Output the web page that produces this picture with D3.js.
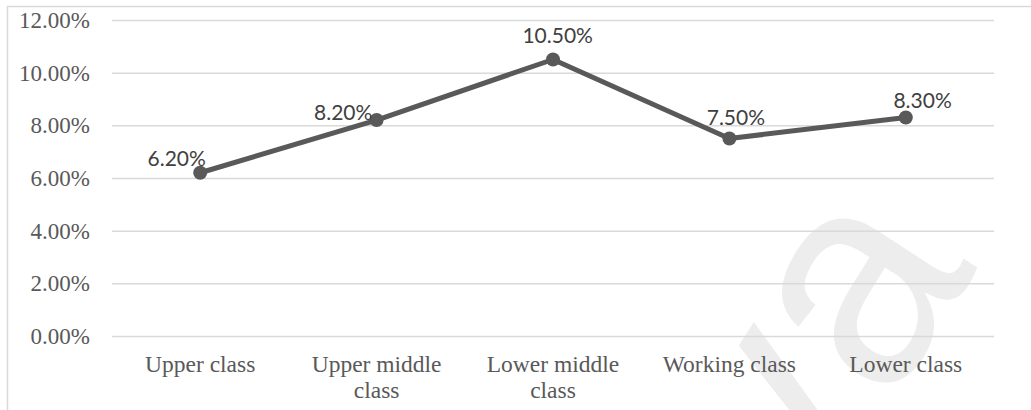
<!DOCTYPE html>
<html>
<head>
<meta charset="utf-8">
<script src="https://cdn.jsdelivr.net/npm/d3@7"></script>
<style>
  html, body { margin: 0; padding: 0; background: #fff; }
  svg { display: block; }
</style>
</head>
<body>
<svg id="chart" width="1031" height="410"></svg>
<script>
// Share of respondents by social class
const categories = [["Upper class"], ["Upper middle", "class"], ["Lower middle", "class"], ["Working class"], ["Lower class"]];
const values = [0.062, 0.082, 0.105, 0.075, 0.083];
const yTicks = [0, 0.02, 0.04, 0.06, 0.08, 0.10, 0.12];

const svg = d3.select("#chart");
const W = 1031, H = 410;
const plot = { left: 112, right: 994, top: 20, bottom: 336 };

// outer chart frame (runs past the right and bottom edges)
svg.append("rect")
  .attr("x", 7.5).attr("y", 6.5)
  .attr("width", W + 20).attr("height", H + 20)
  .attr("fill", "none").attr("stroke", "#d9d9d9").attr("stroke-width", 1.5);

// background watermark
svg.append("text")
  .attr("transform", "translate(978,268) rotate(-57)")
  .attr("text-anchor", "end")
  .attr("font-family", "Liberation Sans, Arial, sans-serif")
  .attr("font-size", 300)
  .attr("fill", "#ededed")
  .text("Malaya");

const x = d3.scaleBand()
  .domain(d3.range(categories.length))
  .range([plot.left, plot.right])
  .padding(0);

const y = d3.scaleLinear()
  .domain([0, 0.12])
  .range([plot.bottom, plot.top]);

// horizontal gridlines + y labels
const yAxis = d3.axisLeft(y)
  .tickValues(yTicks)
  .tickFormat(d3.format(".2%"))
  .tickSize(-(plot.right - plot.left))
  .tickPadding(22);

const gy = svg.append("g")
  .attr("transform", `translate(${plot.left},0)`)
  .call(yAxis);
gy.select(".domain").remove();
gy.selectAll(".tick line").attr("stroke", "#d9d9d9").attr("stroke-width", 1.5);
gy.selectAll(".tick text")
  .attr("font-family", "Liberation Serif, Times New Roman, serif")
  .attr("font-size", 23)
  .attr("fill", "#595959");

// category labels
const gx = svg.append("g");
categories.forEach((lines, i) => {
  const t = gx.append("text")
    .attr("x", x(i) + x.bandwidth() / 2)
    .attr("y", 371.5)
    .attr("text-anchor", "middle")
    .attr("font-family", "Liberation Serif, Times New Roman, serif")
    .attr("font-size", 23.5)
    .attr("fill", "#595959");
  lines.forEach((ln, j) => {
    t.append("tspan")
      .attr("x", x(i) + x.bandwidth() / 2)
      .attr("dy", j === 0 ? 0 : 26.5)
      .text(ln);
  });
});

const cx = i => x(i) + x.bandwidth() / 2;

// series line
const line = d3.line()
  .x((d, i) => cx(i))
  .y(d => y(d));

svg.append("path")
  .datum(values)
  .attr("d", line)
  .attr("fill", "none")
  .attr("stroke", "#595959")
  .attr("stroke-width", 5)
  .attr("stroke-linejoin", "round");

// markers
svg.selectAll("circle.pt")
  .data(values)
  .join("circle")
  .attr("class", "pt")
  .attr("cx", (d, i) => cx(i))
  .attr("cy", d => y(d))
  .attr("r", 7)
  .attr("fill", "#595959");

// data labels, nudged individually around each marker
const labelNudge = [[-23.5, -6.7], [-33.4, 0.3], [4.7, -16.7], [6.5, -13.3], [16.8, -9]];
svg.selectAll("text.lbl")
  .data(values)
  .join("text")
  .attr("class", "lbl")
  .attr("x", (d, i) => cx(i) + labelNudge[i][0])
  .attr("y", (d, i) => y(d) + labelNudge[i][1])
  .attr("text-anchor", "middle")
  .attr("font-family", "Lato, Carlito, Calibri, sans-serif")
  .attr("font-size", 21)
  .attr("fill", "#404040")
  .text(d => d3.format(".2%")(d));
</script>
</body>
</html>
